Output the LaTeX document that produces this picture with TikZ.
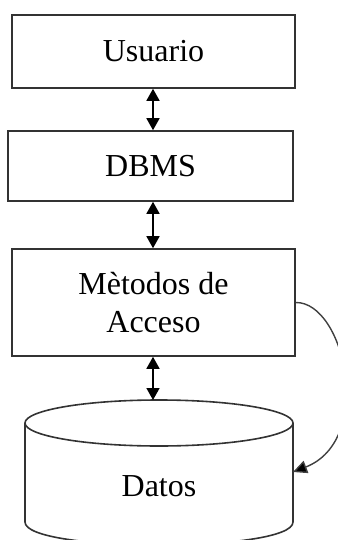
\documentclass[tikz,border=0pt]{standalone}
\usepackage{fontspec}
\setmainfont{Liberation Serif}
\usetikzlibrary{arrows.meta}
\begin{document}
\begin{tikzpicture}[x=1pt,y=-1pt,
  box/.style={draw=black!80,line width=1.6pt,minimum width=#1,inner sep=0pt,font=\fontsize{32}{38}\selectfont,align=center},
  link/.style={line width=1.6pt,{Triangle[width=13pt,length=12pt]}-{Triangle[width=13pt,length=12pt]}},
  curved/.style={draw=black!75,line width=1.4pt,-{Triangle[width=13pt,length=14pt,fill=black]}},
  cyl/.style={draw=black!80,line width=1.6pt},
  lbl/.style={font=\fontsize{32}{38}\selectfont,inner sep=0pt}]
\useasboundingbox (0,0) rectangle (337,540);
\node[box=283pt,minimum height=73pt] (u) at (153.5,51.5) {Usuario};
\node[box=285pt,minimum height=70pt] (db) at (150.5,166) {DBMS};
\node[box=283pt,minimum height=107pt] (m) at (153.5,302.5) {Mètodos de\\Acceso};
% cylinder
\coordinate (ctop) at (159,423);
\draw[cyl] (ctop) ellipse [x radius=134,y radius=23];
\draw[cyl] (25,423) -- (25,522) .. controls (25,552.7) and (293,552.7) .. (293,522) -- (293,423);
\node[lbl] (d) at (159,486) {Datos};
\coordinate (dtop) at (153,400);
\coordinate (dright) at (293,472);
\draw[link] (u.south -| 153,0) -- (db.north -| 153,0);
\draw[link] (db.south -| 153,0) -- (m.north -| 153,0);
\draw[link] (m.south -| 153,0) -- (dtop);
\draw[curved] (m.east) .. controls (345,302) and (375,440) .. (dright);
\end{tikzpicture}
\end{document}
